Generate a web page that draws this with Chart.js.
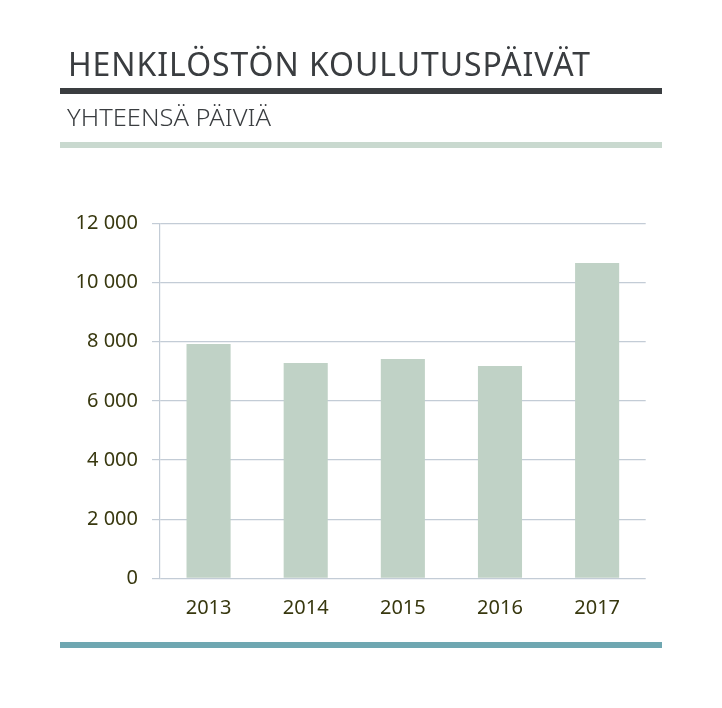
<!DOCTYPE html>
<html>
<head>
<meta charset="utf-8">
<script src="https://cdn.jsdelivr.net/npm/chart.js@4.4.0/dist/chart.umd.min.js"></script>
<style>
  html, body { margin: 0; padding: 0; background: #ffffff; }
  #wrap { position: relative; width: 722px; height: 708px; overflow: hidden; background: #fff; }
  #chartCanvas { position: absolute; left: 0; top: 0; }
  .txt { position: absolute; white-space: nowrap; font-family: "Noto Sans", sans-serif; font-weight: 350; line-height: 1; transform-origin: 0 0; color: #3a3d40; }
  #title { left: 68px; top: 46.9px; font-size: 33.6px; letter-spacing: 1px; font-weight: 400; }
  #subtitle { left: 67px; top: 105.9px; font-size: 23.4px; color: #3a3d40; }
  .rule { position: absolute; left: 60px; width: 602px; }
  #r1 { top: 87.5px; height: 6.5px; background: #3a3d40; }
  #r2 { top: 141.7px; height: 6px; background: #c9d9cf; }
  #r3 { top: 641.5px; height: 6px; background: #6fa7b1; }
</style>
</head>
<body>
<div id="wrap">
  <canvas id="chartCanvas" width="722" height="708"></canvas>
  <span class="txt" id="title" data-w="523">HENKILÖSTÖN KOULUTUSPÄIVÄT</span>
  <div class="rule" id="r1"></div>
  <span class="txt" id="subtitle" data-w="204">YHTEENSÄ PÄIVIÄ</span>
  <div class="rule" id="r2"></div>
  <div class="rule" id="r3"></div>
</div>
<script>
// ---- data ----
const categories = ['2013', '2014', '2015', '2016', '2017'];
const trainingDays = [7920, 7280, 7410, 7180, 10660];
const yTickValues = [0, 2000, 4000, 6000, 8000, 10000, 12000];
const yTickLabels = ['0', '2 000', '4 000', '6 000', '8 000', '10 000', '12 000'];

// fit heading widths
document.querySelectorAll('.txt[data-w]').forEach(el => {
  const target = parseFloat(el.dataset.w);
  const w = el.getBoundingClientRect().width;
  if (w > 0) el.style.transform = 'scaleX(' + (target / w) + ')';
});

const tickFont = { family: '"Noto Sans", sans-serif', size: 20, weight: '400' };
const tickColor = '#38380f';
const gridColor = '#c3ccd6';

new Chart(document.getElementById('chartCanvas'), {
  type: 'bar',
  data: {
    labels: categories,
    datasets: [{
      data: trainingDays,
      backgroundColor: '#c0d2c6',
      borderWidth: 0,
      categoryPercentage: 1.0,
      barPercentage: 0.454
    }]
  },
  options: {
    responsive: false,
    animation: false,
    devicePixelRatio: 1,
    layout: { padding: { top: 223.3, right: 76.3, left: 0, bottom: 0 } },
    plugins: { legend: { display: false }, title: { display: false }, tooltip: { enabled: false } },
    scales: {
      x: {
        grid: { display: false, drawTicks: false },
        border: { display: false },
        ticks: { color: tickColor, font: tickFont, padding: 18, maxRotation: 0 },
        afterFit: (s) => { s.height = 708 - 578.3; }
      },
      y: {
        min: 0,
        max: 12000,
        afterBuildTicks: (s) => { s.ticks = yTickValues.map(v => ({ value: v })); },
        grid: { color: gridColor, lineWidth: 1.2, tickLength: 8, drawTicks: true },
        border: { display: true, color: gridColor, width: 1.2 },
        ticks: {
          color: tickColor, font: tickFont, padding: 14,
          callback: (v) => { const i = yTickValues.indexOf(v); return i >= 0 ? yTickLabels[i] : ''; }
        },
        afterFit: (s) => { s.width = 160; }
      }
    }
  }
});
</script>
</body>
</html>
